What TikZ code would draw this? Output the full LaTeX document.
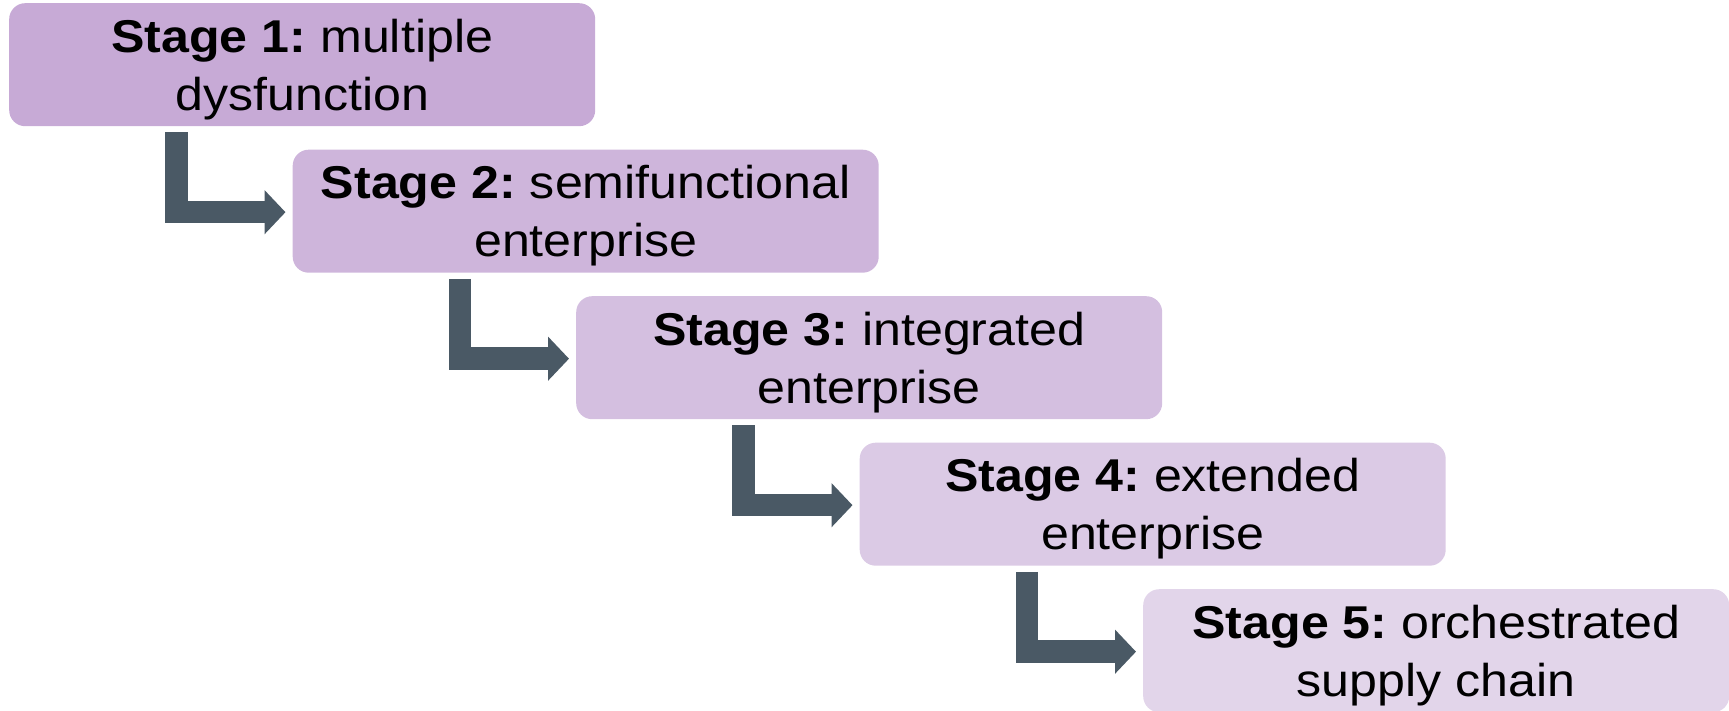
\documentclass[tikz,border=0pt]{standalone}
\usepackage{fontspec}
\setmainfont{Liberation Sans}[FakeStretch=1.09]
\usetikzlibrary{arrows.meta,calc}
\definecolor{c1}{RGB}{199,170,214}
\definecolor{c2}{RGB}{206,181,219}
\definecolor{c3}{RGB}{212,191,224}
\definecolor{c4}{RGB}{219,202,229}
\definecolor{c5}{RGB}{226,213,234}
\definecolor{arr}{RGB}{74,89,101}
\newcommand\stgstrut{\rule{0pt}{43pt}}
\tikzset{
  stagebox/.style={rectangle, rounded corners=16pt, draw=none, anchor=north west,
    minimum width=586pt, minimum height=123pt, inner sep=0pt, align=center,
    font=\fontsize{46}{58}\selectfont\frenchspacing},
  conn/.style={draw=arr, line width=22.5pt, line join=miter, line cap=butt,
    -{Triangle[width=43pt,length=21pt]}}
}
\begin{document}
\begin{tikzpicture}[x=1pt,y=-1pt]
\useasboundingbox (0,0) rectangle (1729,711);
\node[stagebox, fill=c1] (s1) at (9,3)     {\stgstrut\textbf{Stage 1:} multiple\\dysfunction};
\node[stagebox, fill=c2] (s2) at (292.5,149.5) {\stgstrut\textbf{Stage 2:} semifunctional\\enterprise};
\node[stagebox, fill=c3] (s3) at (576,296)   {\stgstrut\textbf{Stage 3:} integrated\\enterprise};
\node[stagebox, fill=c4] (s4) at (859.5,442.5) {\stgstrut\textbf{Stage 4:} extended\\enterprise};
\node[stagebox, fill=c5] (s5) at (1143,589)  {\stgstrut\textbf{Stage 5:} orchestrated\\supply chain};
\foreach \a/\b in {s1/s2,s2/s3,s3/s4,s4/s5}{
  \draw[conn] ($(\a.south west)+(167.5,6)$) |- ($(\b.west)+(-7,1)$);
}
\end{tikzpicture}
\end{document}
